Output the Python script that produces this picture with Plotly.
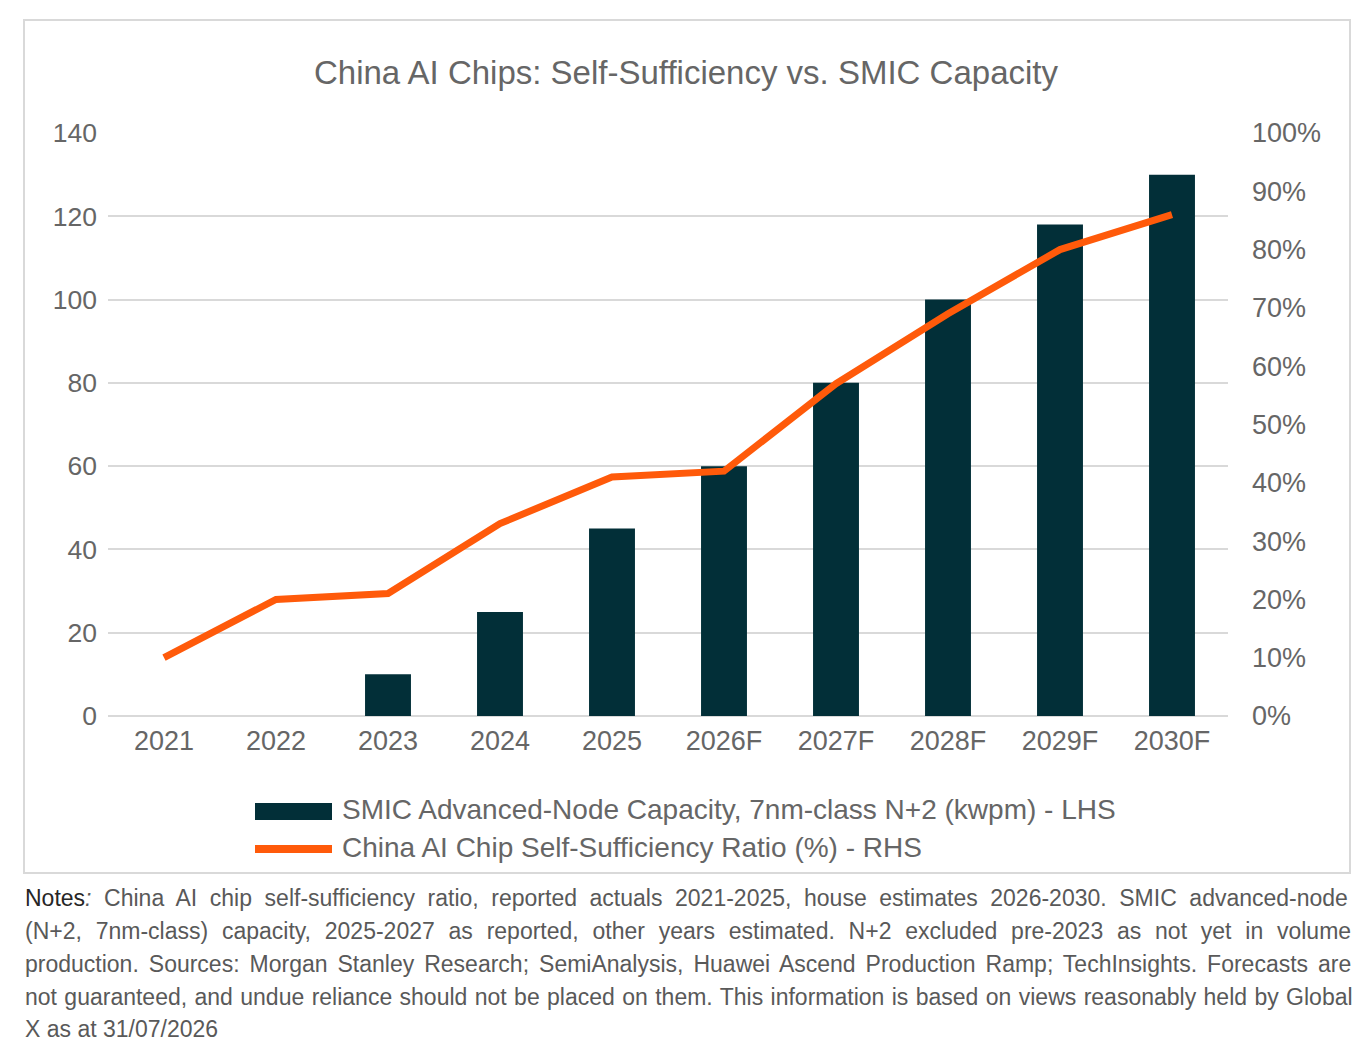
import plotly.graph_objects as go

# chart data
years = ["2021", "2022", "2023", "2024", "2025", "2026F", "2027F", "2028F", "2029F", "2030F"]
capacity_kwpm = [None, None, 10, 25, 45, 60, 80, 100, 118, 130]
self_sufficiency = [0.10, 0.20, 0.21, 0.33, 0.41, 0.42, 0.57, 0.69, 0.80, 0.86]

bar_name = "SMIC Advanced-Node Capacity, 7nm-class N+2 (kwpm) - LHS"
line_name = "China AI Chip Self-Sufficiency Ratio (%) - RHS"
title_text = "China AI Chips: Self-Sufficiency vs. SMIC Capacity"
notes_lines = [
    "<span style='color:#262626'>Notes</span><i>:</i> China AI chip self-sufficiency ratio, reported actuals 2021-2025, house estimates 2026-2030. SMIC advanced-node",
    "(N+2, 7nm-class) capacity, 2025-2027 as reported, other years estimated. N+2 excluded pre-2023 as not yet in volume",
    "production. Sources: Morgan Stanley Research; SemiAnalysis, Huawei Ascend Production Ramp; TechInsights. Forecasts are",
    "not guaranteed, and undue reliance should not be placed on them. This information is based on views reasonably held by Global",
    "X as at 31/07/2026",
]
# extra space between words so the note reads justified like the original
notes_word_spacing = [6.2, 7.4, 3.6, 1.0, 0]

BAR_COLOR = "#022f38"
LINE_COLOR = "#ff5a0a"
TEXT_GREY = "#666666"
FONT = "Liberation Sans, Arial, sans-serif"

W, H = 1372, 1057
OFF = 8  # page margin of the browser
L, R, T, B = 108 - OFF, 1228 - OFF, 133 - OFF, 716 - OFF   # plot area in pixels


def px(x):
    return (x - OFF - L) / (R - L)


def py(y):
    return (B - (y - OFF)) / (B - T)


fig = go.Figure()

fig.add_trace(go.Bar(
    x=years, y=capacity_kwpm, name=bar_name,
    marker=dict(color=BAR_COLOR, line=dict(width=0)),
    width=0.41, yaxis="y", showlegend=False,
))

fig.add_trace(go.Scatter(
    x=years, y=self_sufficiency, name=line_name, mode="lines",
    line=dict(color=LINE_COLOR, width=7), yaxis="y2", showlegend=False,
))

# legend drawn by hand so the swatches are wide like the original
shapes = [
    dict(type="rect", xref="paper", yref="paper",
         x0=px(255), x1=px(332), y0=py(820), y1=py(803),
         fillcolor=BAR_COLOR, line=dict(width=0)),
    dict(type="line", xref="paper", yref="paper",
         x0=px(255), x1=px(332), y0=py(849), y1=py(849),
         line=dict(color=LINE_COLOR, width=8)),
    # outer border of the chart box
    dict(type="rect", xref="paper", yref="paper",
         x0=px(24), x1=px(1350), y0=py(873), y1=py(20),
         line=dict(color="#d9d9d9", width=2), layer="below"),
]

annotations = [
    dict(text=bar_name, x=px(340), y=py(809), xref="paper", yref="paper",
         xanchor="left", yanchor="middle", showarrow=False,
         font=dict(size=28, color=TEXT_GREY, family=FONT)),
    dict(text=line_name, x=px(340), y=py(847), xref="paper", yref="paper",
         xanchor="left", yanchor="middle", showarrow=False,
         font=dict(size=28, color=TEXT_GREY, family=FONT)),
]

# notes under the box, one annotation per line
line_y = [898, 931, 964, 997, 1029]
for txt, ws, yy in zip(notes_lines, notes_word_spacing, line_y):
    if ws:
        txt = "<span style='word-spacing:%.1fpx'>%s</span>" % (ws, txt)
    annotations.append(dict(
        text=txt, x=px(23), y=py(yy), xref="paper", yref="paper",
        xanchor="left", yanchor="middle", showarrow=False,
        font=dict(size=23, color="#595959", family=FONT),
    ))

fig.update_layout(
    width=W, height=H,
    margin=dict(l=L, r=W - R, t=T, b=H - B, autoexpand=False),
    paper_bgcolor="white", plot_bgcolor="white",
    title=dict(text=title_text, x=px(686), xref="paper", xanchor="center",
               y=1 - (72 - OFF) / H, yanchor="middle",
               font=dict(size=33, color=TEXT_GREY, family=FONT)),
    xaxis=dict(
        type="category", tickfont=dict(size=27, color=TEXT_GREY, family=FONT),
        showgrid=False, showline=False, ticks="", ticklabelstandoff=6,
    ),
    yaxis=dict(
        range=[0, 140], dtick=20, tickfont=dict(size=26.5, color=TEXT_GREY, family=FONT),
        showgrid=True, gridcolor="#d9d9d9", gridwidth=2,
        zeroline=True, zerolinecolor="#d9d9d9", zerolinewidth=2,
        showline=False, ticks="", ticklabelstandoff=10,
    ),
    yaxis2=dict(
        range=[0, 1.0], dtick=0.1, tickformat=".0%", overlaying="y", side="right",
        tickfont=dict(size=27, color=TEXT_GREY, family=FONT),
        showgrid=False, zeroline=False, showline=False, ticks="", ticklabelstandoff=23,
    ),
    bargap=0.59,
    showlegend=False,
    shapes=shapes,
    annotations=annotations,
)

fig.write_html("out.html")
